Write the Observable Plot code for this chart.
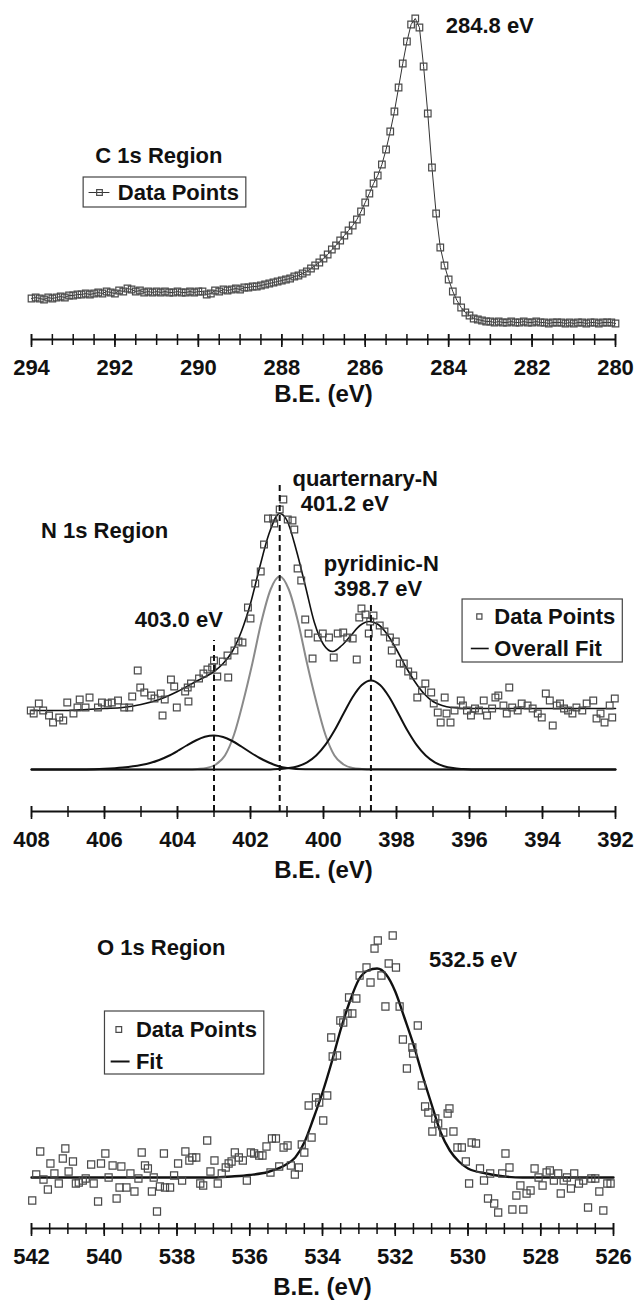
<!DOCTYPE html>
<html>
<head>
<meta charset="utf-8">
<script src="https://cdn.jsdelivr.net/npm/d3@7"></script>
<script src="https://cdn.jsdelivr.net/npm/@observablehq/plot@0.6"></script>
<style>
html, body { margin: 0; padding: 0; background: #fff; }
#chart { width: 635px; }
#chart svg { display: block; }
</style>
</head>
<body>
<div id="chart"></div>
<script>
// ---------------- C 1s region ----------------
const cBE = [294.0,293.9,293.8,293.7,293.6,293.5,293.4,293.3,293.2,293.1,293.0,292.9,292.8,292.7,292.6,292.5,292.4,292.3,292.2,292.1,
  292.0,291.9,291.8,291.7,291.6,291.5,291.4,291.3,291.2,291.1,291.0,290.9,290.8,290.7,290.6,290.5,290.4,290.3,290.2,290.1,
  290.0,289.9,289.8,289.7,289.6,289.5,289.4,289.3,289.2,289.1,289.0,288.9,288.8,288.7,288.6,288.5,288.4,288.3,288.2,288.1,
  288.0,287.9,287.8,287.7,287.6,287.5,287.4,287.3,287.2,287.1,287.0,286.9,286.8,286.7,286.6,286.5,286.4,286.3,286.2,286.1,
  286.0,285.9,285.8,285.7,285.6,285.5,285.4,285.3,285.2,285.1,285.0,284.9,284.8,284.7,284.6,284.5,284.4,284.3,284.2,284.1,
  284.0,283.9,283.8,283.7,283.6,283.5,283.4,283.3,283.2,283.1,283.0,282.9,282.8,282.7,282.6,282.5,282.4,282.3,282.2,282.1,
  282.0,281.9,281.8,281.7,281.6,281.5,281.4,281.3,281.2,281.1,281.0,280.9,280.8,280.7,280.6,280.5,280.4,280.3,280.2,280.1,280.0];
const cCounts = [41,42,41,40,42,41,42,43,42,44,44,45,45,46,45,46,47,46,48,47,
  46,49,48,51,50,48,49,47,48,47,48,47,48,47,47,48,47,47,48,47,
  48,48,45,46,49,48,50,49,50,51,50,52,52,53,53,54,55,56,57,58,
  59,60,61,63,64,66,68,71,74,77,81,85,90,94,99,104,109,114,120,128,
  137,146,156,164,175,190,208,228,252,276,298,315,321,312,273,226,172,126,92,74,
  60,48,39,32,27,24,21,20,19,18,18,17,18,17,17,18,17,17,18,17,
  17,18,17,17,16,17,17,17,16,17,16,17,17,16,17,17,16,17,17,17,16];
const cMajorTicks = [294, 292, 290, 288, 286, 284, 282, 280];
const cMinorTicks = [294,293.5,293,292.5,292,291.5,291,290.5,290,289.5,289,288.5,288,287.5,287,286.5,286,285.5,285,284.5,284,283.5,283,282.5,282,281.5,281,280.5,280];

// ---------------- N 1s region ----------------
const nBE = [408.02,407.94,407.80,407.68,407.52,407.41,407.24,407.13,407.02,406.85,
  406.74,406.68,406.52,406.41,406.18,406.07,405.91,405.80,405.63,405.46,
  405.32,405.24,405.09,405.02,404.91,404.72,404.63,404.46,404.41,404.35,
  404.18,404.09,404.02,403.79,403.72,403.70,403.63,403.41,403.29,403.18,
  403.05,403.00,402.91,402.76,402.63,402.61,402.44,402.33,402.22,402.07,
  402.00,401.87,401.72,401.63,401.52,401.38,401.35,401.20,401.10,400.98,
  400.85,400.80,400.71,400.61,400.50,400.41,400.30,400.16,400.02,399.85,
  399.72,399.61,399.46,399.35,399.20,399.09,399.02,398.96,398.85,398.76,
  398.72,398.63,398.46,398.33,398.18,398.13,398.02,397.91,397.80,397.68,
  397.54,397.43,397.30,397.21,397.05,396.98,396.87,396.79,396.68,396.63,
  396.52,396.41,396.24,396.18,396.07,395.96,395.85,395.74,395.61,395.52,
  395.38,395.29,395.21,395.07,394.98,394.91,394.83,394.68,394.57,394.41,
  394.27,394.13,394.02,393.91,393.80,393.72,393.61,393.52,393.41,393.30,
  393.18,393.07,392.91,392.79,392.61,392.52,392.41,392.30,392.16,392.09,
  392.02];
const nCounts = [101,98,108,101,96,89,94,91,109,98,
  104,112,104,114,104,109,108,109,111,104,
  104,115,141,124,119,116,113,118,96,112,
  132,125,104,120,124,110,128,133,138,142,
  144,151,135,150,156,134,161,170,169,204,
  193,228,240,267,293,293,288,302,312,292,
  291,282,243,231,192,178,153,174,178,174,
  154,178,179,174,173,152,194,203,197,178,
  190,196,186,180,174,161,170,148,148,140,
  136,114,121,128,119,108,99,89,114,98,
  89,101,111,106,101,96,103,101,111,96,
  103,114,116,106,98,124,104,101,108,106,
  103,98,94,118,111,86,106,108,103,101,
  98,104,101,108,111,93,98,89,106,94,
  113];
const nFitBE = [408.0,407.5,407.0,406.5,406.0,405.5,405.0,404.5,404.0,403.5,403.0,402.75,402.5,402.25,402.0,401.75,401.5,401.2,401.0,400.75,400.5,400.25,400.0,399.75,399.5,399.25,399.0,398.75,398.5,398.25,398.0,397.75,397.5,397.25,397.0,396.75,396.5,396.0,395.0,394.0,393.0,392.0];
const nFit = [101,101,101,102,103,104,107,112,120,130,140,148,160,180,208,244,277,298,291,262,226,189,167,160,166,176,186,190,187,177,162,145,130,118,110,106,104,103,103,103,103,103];
// component peaks (drawn on their own zero line)
const nComp403BE = [408.0,406.5,406.0,405.5,405.0,404.75,404.5,404.25,404.0,403.75,403.5,403.25,403.0,402.75,402.5,402.25,402.0,401.75,401.5,401.25,401.0,400.5,392.0];
const nComp403 = [42,42.1,42.7,44,46.5,48.5,51.5,55.5,60.5,66,71,74.7,76,74.5,70.5,65,59,53.5,49,45.5,43.5,42.2,42];
const nComp4012BE = [408.0,403.7,403.45,403.2,402.95,402.7,402.45,402.2,401.95,401.7,401.45,401.2,400.95,400.7,400.45,400.2,399.95,399.7,399.45,399.2,398.95,398.7,392.0];
const nComp4012 = [42,42,42.5,43.5,47,56,77,110,148,190,222,235,222,190,148,110,77,56,47,43.5,42.5,42,42];
const nComp3987BE = [408.0,401.45,401.2,400.95,400.7,400.45,400.2,399.95,399.7,399.45,399.2,398.95,398.7,398.45,398.2,397.95,397.7,397.45,397.2,396.95,396.7,396.45,396.2,395.95,392.0];
const nComp3987 = [42,42,42.5,43.4,45.3,49.2,56,66.6,81,98,114.5,126.5,131,126.5,114.5,98,81,66.6,56,49.2,45.3,43.4,42.5,42,42];
const nPeakBE = [403.0, 401.2, 398.7];
const nMajorTicks = [408, 406, 404, 402, 400, 398, 396, 394, 392];
const nMinorTicks = [408,407,406,405,404,403,402,401,400,399,398,397,396,395,394,393,392];

// ---------------- O 1s region ----------------
const oBE = [541.98,541.87,541.76,541.67,541.55,541.48,541.37,541.25,541.14,541.07,
  540.98,540.86,540.78,540.70,540.59,540.51,540.36,540.29,540.17,540.09,
  539.97,539.88,539.77,539.66,539.58,539.53,539.39,539.28,539.17,539.06,
  538.97,538.88,538.80,538.69,538.64,538.55,538.47,538.36,538.33,538.19,
  538.08,537.97,537.86,537.77,537.66,537.58,537.47,537.36,537.28,537.17,
  537.08,536.97,536.88,536.77,536.66,536.58,536.50,536.41,536.30,536.19,
  536.08,535.97,535.88,535.74,535.65,535.54,535.43,535.39,535.28,535.19,
  535.07,534.96,534.87,534.76,534.65,534.57,534.50,534.38,534.30,534.18,
  534.09,533.98,533.87,533.76,533.72,533.60,533.51,533.43,533.31,533.27,
  533.18,533.07,532.98,532.79,532.68,532.57,532.48,532.38,532.27,532.18,
  532.07,531.98,531.88,531.79,531.68,531.53,531.51,531.38,531.27,531.18,
  531.09,530.98,530.90,530.82,530.68,530.56,530.51,530.40,530.29,530.17,
  530.06,529.97,529.90,529.78,529.67,529.56,529.45,529.39,529.28,529.17,
  529.06,528.97,528.86,528.78,528.67,528.56,528.48,528.39,528.28,528.17,
  528.06,527.95,527.84,527.75,527.64,527.52,527.45,527.37,527.28,527.17,
  527.08,526.95,526.83,526.70,526.61,526.50,526.39,526.28,526.17,526.08];
const oCounts = [28,54,77,49,39,65,55,45,70,80,
  57,67,45,46,48,50,64,45,27,65,
  75,51,63,30,41,62,41,55,37,50,
  76,63,60,37,51,17,42,75,41,41,
  53,65,48,77,68,71,71,45,43,88,
  57,68,45,55,61,65,67,76,71,68,
  48,76,75,73,73,82,56,90,90,62,
  81,83,63,54,61,84,76,123,91,131,
  126,108,133,191,172,173,208,206,215,231,
  215,230,253,261,246,280,288,253,222,265,
  293,261,222,189,160,181,175,203,143,122,
  116,97,110,105,96,115,120,97,81,81,
  67,45,86,85,60,48,30,55,25,16,
  55,75,61,19,33,43,19,35,38,60,
  51,43,56,58,48,55,35,48,51,40,
  55,45,48,21,50,50,37,18,45,45];
const oFitBE = [542,537,536.5,536,535.5,535,534.75,534.5,534.25,534,533.75,533.5,533.25,533,532.75,532.5,532.25,532,531.75,531.5,531.25,531,530.75,530.5,530.25,530,529.5,529,528.5,526];
const oFit = [51,51,52,53.5,56.5,64,71,86,110,136,166,199,227,249,258,260,254,237,211,184,153,124,96,78,67,60,55,52,51,51];
const oMajorTicks = [542, 540, 538, 536, 534, 532, 530, 528, 526];
const oMinorTicks = [542,541.5,541,540.5,540,539.5,539,538.5,538,537.5,537,536.5,536,535.5,535,534.5,534,533.5,533,532.5,532,531.5,531,530.5,530,529.5,529,528.5,528,527.5,527,526.5,526];

const xLabel = "B.E. (eV)";

// ---------------- helpers ----------------
const FONT = "'Liberation Sans', Arial, Helvetica, sans-serif";
const INK = "#111";
const PT = "#4a4a4a";
const zip = (xs, ys) => xs.map((be, i) => ({be, v: ys[i]}));

function label(txt, x, y, extra = {}) {
  return Plot.text([txt], {x, y, text: d => d, textAnchor: "start", lineAnchor: "middle", fontSize: 22, fontWeight: "bold", fill: INK, ...extra});
}

function xpsPanel({height, axisY, marginRight, domain, minor, major, labelDy, marks}) {
  return Plot.plot({
    width: 635, height,
    marginTop: 0, marginLeft: 31, marginRight, marginBottom: height - axisY,
    x: {domain, axis: null},
    y: {domain: [0, axisY], axis: null},
    style: {fontFamily: FONT, background: "#fff", color: INK, overflow: "visible"},
    marks: [
      ...marks,
      Plot.ruleY([0], {stroke: INK, strokeWidth: 2}),
      Plot.ruleX(minor, {x: d => d, y1: 0, y2: 0, insetTop: 6, insetBottom: 5, stroke: INK, strokeWidth: 1.5}),
      Plot.ruleX(major, {x: d => d, y1: 0, y2: 0, insetTop: 8, insetBottom: 5, stroke: INK, strokeWidth: 1.6}),
      Plot.text(major, {x: d => d, y: 0, dy: 28, lineAnchor: "middle", text: d => String(d), fontSize: 22, fontWeight: "bold", fill: INK}),
      Plot.text([xLabel], {frameAnchor: "bottom", dy: labelDy, lineAnchor: "middle", text: d => d, fontSize: 24, fontWeight: "bold", fill: INK})
    ]
  });
}

const chart = document.getElementById("chart");

// C 1s
const cData = zip(cBE, cCounts);
chart.appendChild(xpsPanel({
  height: 420, axisY: 339, marginRight: 20, domain: [294, 280],
  minor: cMinorTicks, major: cMajorTicks, labelDy: 55,
  marks: [
    Plot.line(cData, {x: "be", y: "v", stroke: "#333", strokeWidth: 1}),
    Plot.dot(cData, {x: "be", y: "v", symbol: "square", r: 3.7, stroke: PT, strokeWidth: 1.2, fill: "none"}),
    label("C 1s Region", 292.47, 184),
    label("284.8 eV", 284.07, 314),
    Plot.rect([0], {x1: 292.75, x2: 288.85, y1: 132, y2: 162, fill: "#fff", stroke: "#444", strokeWidth: 1.2}),
    Plot.ruleY([147], {x1: 292.62, x2: 292.12, stroke: "#333", strokeWidth: 1}),
    Plot.dot([0], {x: 292.37, y: 147, symbol: "square", r: 3.2, stroke: PT, strokeWidth: 1.2, fill: "none"}),
    label("Data Points", 291.93, 147)
  ]
}));

// N 1s
const nData = zip(nBE, nCounts);
chart.appendChild(xpsPanel({
  height: 460, axisY: 391, marginRight: 20, domain: [408, 392],
  minor: nMinorTicks, major: nMajorTicks, labelDy: 59,
  marks: [
    Plot.line(zip(nComp4012BE, nComp4012), {x: "be", y: "v", stroke: "#8a8a8a", strokeWidth: 2, curve: "monotone-x"}),
    Plot.line(zip(nComp403BE, nComp403), {x: "be", y: "v", stroke: INK, strokeWidth: 2, curve: "monotone-x"}),
    Plot.line(zip(nComp3987BE, nComp3987), {x: "be", y: "v", stroke: INK, strokeWidth: 2, curve: "monotone-x"}),
    Plot.line(zip(nFitBE, nFit), {x: "be", y: "v", stroke: INK, strokeWidth: 1.6, curve: "monotone-x"}),
    Plot.dot(nData, {x: "be", y: "v", symbol: "square", r: 3.8, stroke: PT, strokeWidth: 1.2, fill: "none"}),
    Plot.ruleX(nPeakBE, {x: d => d, y1: 0, y2: (d, i) => [171, 329, 208][i], stroke: INK, strokeWidth: 2, strokeDasharray: "6,4"}),
    label("quarternary-N", 400.85, 333),
    label("401.2 eV", 400.62, 308),
    label("N 1s Region", 407.74, 281),
    label("pyridinic-N", 399.99, 248),
    label("398.7 eV", 399.71, 223),
    label("403.0 eV", 405.17, 192),
    Plot.rect([0], {x1: 396.19, x2: 391.8, y1: 149, y2: 212, fill: "#fff", stroke: "#444", strokeWidth: 1.2}),
    Plot.dot([0], {x: 395.73, y: 195, symbol: "square", r: 2.9, stroke: PT, strokeWidth: 1.2, fill: "none"}),
    label("Data Points", 395.32, 195),
    Plot.ruleY([163], {x1: 395.95, x2: 395.46, stroke: INK, strokeWidth: 1.6}),
    label("Overall Fit", 395.32, 163)
  ]
}));

// O 1s
const oData = zip(oBE, oCounts);
chart.appendChild(xpsPanel({
  height: 422, axisY: 348, marginRight: 22, domain: [542, 526],
  minor: oMinorTicks, major: oMajorTicks, labelDy: 59,
  marks: [
    Plot.line(zip(oFitBE, oFit), {x: "be", y: "v", stroke: INK, strokeWidth: 2.4, curve: "monotone-x"}),
    Plot.dot(oData, {x: "be", y: "v", symbol: "square", r: 4, stroke: PT, strokeWidth: 1.2, fill: "none"}),
    label("O 1s Region", 540.2, 281),
    label("532.5 eV", 531.07, 269),
    Plot.rect([0], {x1: 539.98, x2: 535.6, y1: 154, y2: 217, fill: "#fff", stroke: "#444", strokeWidth: 1.2}),
    Plot.dot([0], {x: 539.6, y: 199, symbol: "square", r: 3.2, stroke: PT, strokeWidth: 1.2, fill: "none"}),
    label("Data Points", 539.13, 199),
    Plot.ruleY([167], {x1: 539.81, x2: 539.29, stroke: INK, strokeWidth: 2}),
    label("Fit", 539.13, 167)
  ]
}));
</script>
</body>
</html>
